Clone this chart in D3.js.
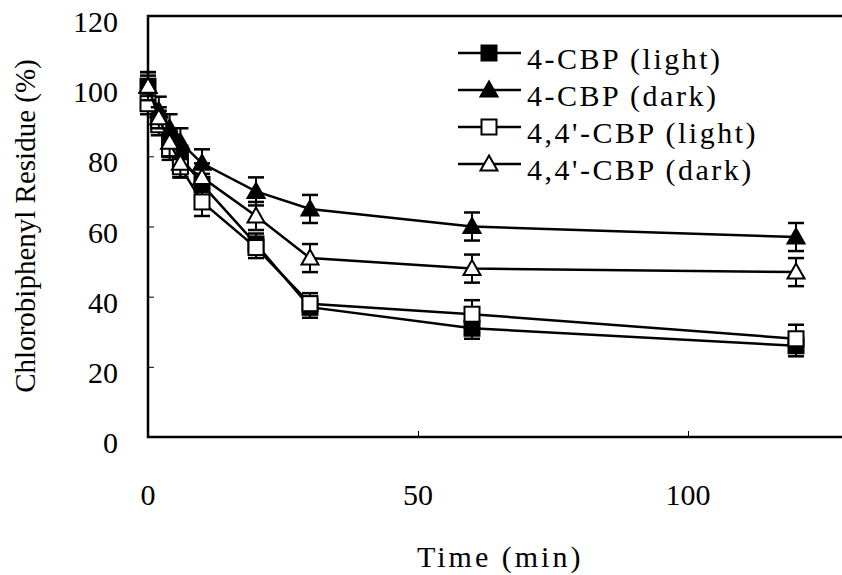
<!DOCTYPE html>
<html>
<head>
<meta charset="utf-8">
<script src="https://cdn.jsdelivr.net/npm/d3@7"></script>
<style>
  body { margin: 0; background: #fff; }
  svg { display: block; }
  text { font-family: "Liberation Serif", "Times New Roman", serif; fill: #000; }
</style>
</head>
<body>
<div id="chart"></div>
<script>
// sampling times (min)
const times = [0, 2, 4, 6, 10, 20, 30, 60, 120];

// residue (%) for each series
const cbpLight = [100, 90, 85, 80, 72, 55, 37, 31, 26];
const cbpDark = [100, 93, 88, 84, 78, 70, 65, 60, 57];
const dcbpLight = [95, 89, 82, 77, 67, 54, 38, 35, 28];
const dcbpDark = [100, 91, 84, 78, 74, 63, 51, 48, 47];

// error bar half widths
const cbpLightErr = [3, 3, 3, 3, 3, 3, 3, 3, 3];
const cbpDarkErr = [4, 4, 4, 4, 4, 4, 4, 4, 4];
const dcbpLightErr = [3, 3, 3, 3, 4, 3, 3, 4, 4];
const dcbpDarkErr = [4, 3, 4, 4, 4, 4, 4, 4, 4];

const seriesNames = ["4-CBP (light)", "4-CBP (dark)", "4,4'-CBP (light)", "4,4'-CBP (dark)"];
const xTicks = [0, 50, 100];
const yTicks = [0, 20, 40, 60, 80, 100, 120];

const series = [
  {name: seriesNames[0], values: cbpLight, err: cbpLightErr, shape: "square", filled: true},
  {name: seriesNames[1], values: cbpDark, err: cbpDarkErr, shape: "triangle", filled: true},
  {name: seriesNames[2], values: dcbpLight, err: dcbpLightErr, shape: "square", filled: false},
  {name: seriesNames[3], values: dcbpDark, err: dcbpDarkErr, shape: "triangle", filled: false}
];

const width = 842, height = 575;
const margin = {top: 16, left: 148, bottom: 138};

const svg = d3.select("#chart").append("svg")
  .attr("width", width)
  .attr("height", height);

const x = d3.scaleLinear().domain([0, 140]).range([margin.left, margin.left + 140 * 5.4]);
const y = d3.scaleLinear().domain([0, 120]).range([height - margin.bottom, margin.top]);

// frame
svg.append("rect")
  .attr("x", x(0)).attr("y", y(120))
  .attr("width", x(140) - x(0)).attr("height", y(0) - y(120))
  .attr("fill", "none").attr("stroke", "#000").attr("stroke-width", 2.5);

// axes with inside ticks
const xAxis = svg.append("g")
  .attr("transform", "translate(0," + y(0) + ")")
  .call(d3.axisTop(x).tickValues(xTicks).tickSize(6).tickFormat(""));
xAxis.select(".domain").remove();
xAxis.selectAll("line").attr("stroke-width", 1);

svg.selectAll(".xlabel")
  .data(xTicks)
  .enter().append("text")
  .attr("class", "xlabel")
  .attr("x", d => x(d))
  .attr("y", 505)
  .attr("text-anchor", "middle")
  .attr("font-size", 30)
  .text(d => d);

const yAxis = svg.append("g")
  .attr("transform", "translate(" + x(0) + ",0)")
  .call(d3.axisRight(y).tickValues(yTicks.filter(d => d > 0 && d < 120)).tickSize(6).tickFormat(""));
yAxis.select(".domain").remove();
yAxis.selectAll("line").attr("stroke-width", 1);

svg.selectAll(".ylabel")
  .data(yTicks)
  .enter().append("text")
  .attr("class", "ylabel")
  .attr("x", 118)
  .attr("y", d => y(d) + 16)
  .attr("text-anchor", "end")
  .attr("font-size", 30)
  .text(d => d);

svg.append("text")
  .attr("transform", "translate(35,226) rotate(-90)")
  .attr("text-anchor", "middle")
  .attr("font-size", 29)
  .text("Chlorobiphenyl Residue (%)");

svg.append("text")
  .attr("x", 417)
  .attr("y", 567)
  .attr("font-size", 30)
  .attr("letter-spacing", 3)
  .text("Time (min)");

// markers
function drawMarker(g, s, cx, cy) {
  if (s.shape === "square") {
    g.append("rect")
      .attr("x", cx - 7.5).attr("y", cy - 7.5)
      .attr("width", 15).attr("height", 15)
      .attr("fill", s.filled ? "#000" : "#fff")
      .attr("stroke", "#000").attr("stroke-width", 2);
  } else {
    g.append("path")
      .attr("d", "M" + cx + "," + (cy - 8.5) + "L" + (cx + 8.5) + "," + (cy + 6.5) + "L" + (cx - 8.5) + "," + (cy + 6.5) + "Z")
      .attr("fill", s.filled ? "#000" : "#fff")
      .attr("stroke", "#000").attr("stroke-width", 2)
      .attr("stroke-linejoin", "miter");
  }
}

const line = d3.line()
  .x(d => x(d.t))
  .y(d => y(d.v));

series.forEach(s => {
  const pts = times.map((t, i) => ({t: t, v: s.values[i], e: s.err[i]}));
  const g = svg.append("g");

  g.append("path")
    .datum(pts)
    .attr("d", line)
    .attr("fill", "none")
    .attr("stroke", "#000")
    .attr("stroke-width", 2.5);

  // error bars
  pts.forEach(p => {
    const cx = x(p.t);
    g.append("line")
      .attr("x1", cx).attr("x2", cx)
      .attr("y1", y(p.v + p.e)).attr("y2", y(p.v - p.e))
      .attr("stroke", "#000").attr("stroke-width", 2);
    [p.v + p.e, p.v - p.e].forEach(v => {
      g.append("line")
        .attr("x1", cx - 8).attr("x2", cx + 8)
        .attr("y1", y(v)).attr("y2", y(v))
        .attr("stroke", "#000").attr("stroke-width", 2.5);
    });
  });

  pts.forEach(p => drawMarker(g, s, x(p.t), y(p.v)));
});

// legend
const legend = svg.append("g");
series.forEach((s, i) => {
  const ly = 53 + i * 37;
  legend.append("line")
    .attr("x1", 458).attr("x2", 521)
    .attr("y1", ly).attr("y2", ly)
    .attr("stroke", "#000").attr("stroke-width", 2.5);
  drawMarker(legend, s, 489, ly);
  legend.append("text")
    .attr("x", 527)
    .attr("y", ly + 16)
    .attr("font-size", 30)
    .attr("letter-spacing", 2.5)
    .text(s.name);
});
</script>
</body>
</html>
